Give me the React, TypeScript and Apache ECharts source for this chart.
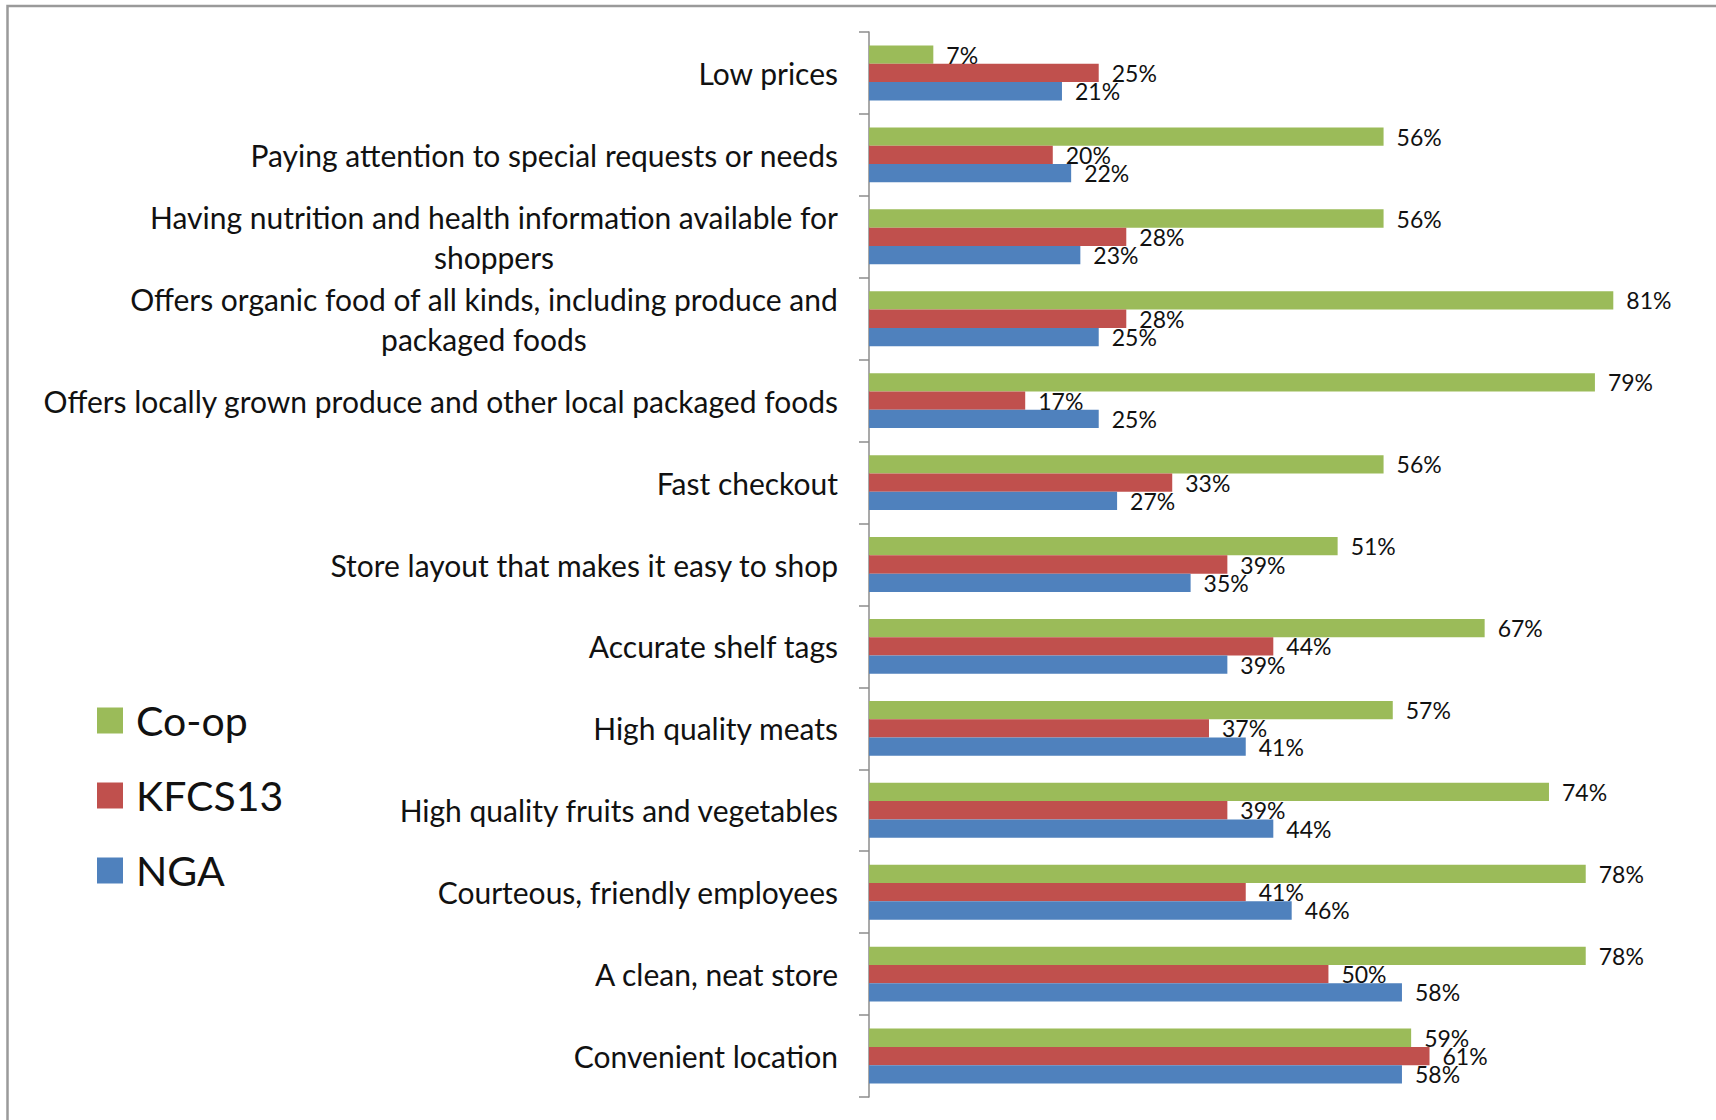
import React, { useEffect, useRef } from "react";
import * as echarts from "echarts";

const categories: string[] = [
  "Low prices",
  "Paying attention to special requests or needs",
  "Having nutrition and health information available for\nshoppers",
  "Offers organic food of all kinds, including produce and\npackaged foods",
  "Offers locally grown produce and other local packaged foods",
  "Fast checkout",
  "Store layout that makes it easy to shop",
  "Accurate shelf tags",
  "High quality meats",
  "High quality fruits and vegetables",
  "Courteous, friendly employees",
  "A clean, neat store",
  "Convenient location",
];

const coop: number[] = [7, 56, 56, 81, 79, 56, 51, 67, 57, 74, 78, 78, 59];
const kfcs13: number[] = [25, 20, 28, 28, 17, 33, 39, 44, 37, 39, 41, 50, 61];
const nga: number[] = [21, 22, 23, 25, 25, 27, 35, 39, 41, 44, 46, 58, 58];

const seriesNames: string[] = ["Co-op", "KFCS13", "NGA"];
const seriesColors: string[] = ["#9BBB59", "#C0504D", "#4F81BD"];

const FONT = "Lato, 'Noto Sans', sans-serif";

export default function App() {
  const ref = useRef<HTMLDivElement>(null);

  useEffect(() => {
    if (!ref.current) return;
    const chart = echarts.init(ref.current, undefined, { renderer: "svg" });
    const dataSets = [coop, kfcs13, nga];
    const option: any = {
      animation: false,
      backgroundColor: "#ffffff",
      graphic: [
        {
          type: "rect",
          shape: { x: 7.5, y: 6, width: 1760, height: 1160 },
          style: { fill: "none", stroke: "#9a9a9a", lineWidth: 2.5 },
          silent: true,
        },
      ],
      legend: {
        orient: "vertical",
        left: 97,
        top: 700,
        padding: 0,
        itemWidth: 26,
        itemHeight: 26,
        itemGap: 34,
        icon: "rect",
        textStyle: {
          fontFamily: FONT,
          fontSize: 41,
          color: "#111",
          padding: [0, 0, 0, 8],
        },
        data: seriesNames,
      },
      grid: {
        left: 869,
        right: 20,
        top: 32,
        bottom: 23,
        containLabel: false,
      },
      xAxis: {
        type: "value",
        min: 0,
        max: 90,
        show: false,
        splitLine: { show: false },
      },
      yAxis: {
        type: "category",
        inverse: true,
        data: categories,
        axisLine: { show: true, lineStyle: { color: "#8c8c8c", width: 1.5 } },
        axisTick: {
          show: true,
          alignWithLabel: false,
          length: 10,
          lineStyle: { color: "#8c8c8c", width: 1.5 },
        },
        axisLabel: {
          margin: 31,
          color: "#111",
          fontFamily: FONT,
          fontSize: 30,
          lineHeight: 40,
          formatter: (v: string) => {
            if (v.indexOf("\n") >= 0) {
              return v
                .split("\n")
                .map((l) => "{c|" + l + "}")
                .join("\n");
            }
            return v;
          },
          rich: {
            c: {
              align: "center",
              fontFamily: FONT,
              fontSize: 30,
              lineHeight: 40,
              color: "#111",
            },
          },
        },
      },
      series: seriesNames.map((name, i) => ({
        name,
        type: "bar",
        data: dataSets[i],
        barGap: "0%",
        barCategoryGap: "33%",
        itemStyle: { color: seriesColors[i] },
        label: {
          show: true,
          position: "right",
          distance: 13,
          formatter: (p: any) => p.value + "%",
          fontFamily: FONT,
          fontSize: 23,
          color: "#111",
        },
      })),
    };
    chart.setOption(option);
    return () => chart.dispose();
  }, []);

  return (
    <div
      ref={ref}
      style={{ position: "fixed", left: 0, top: 0, width: 1716, height: 1120 }}
    />
  );
}
